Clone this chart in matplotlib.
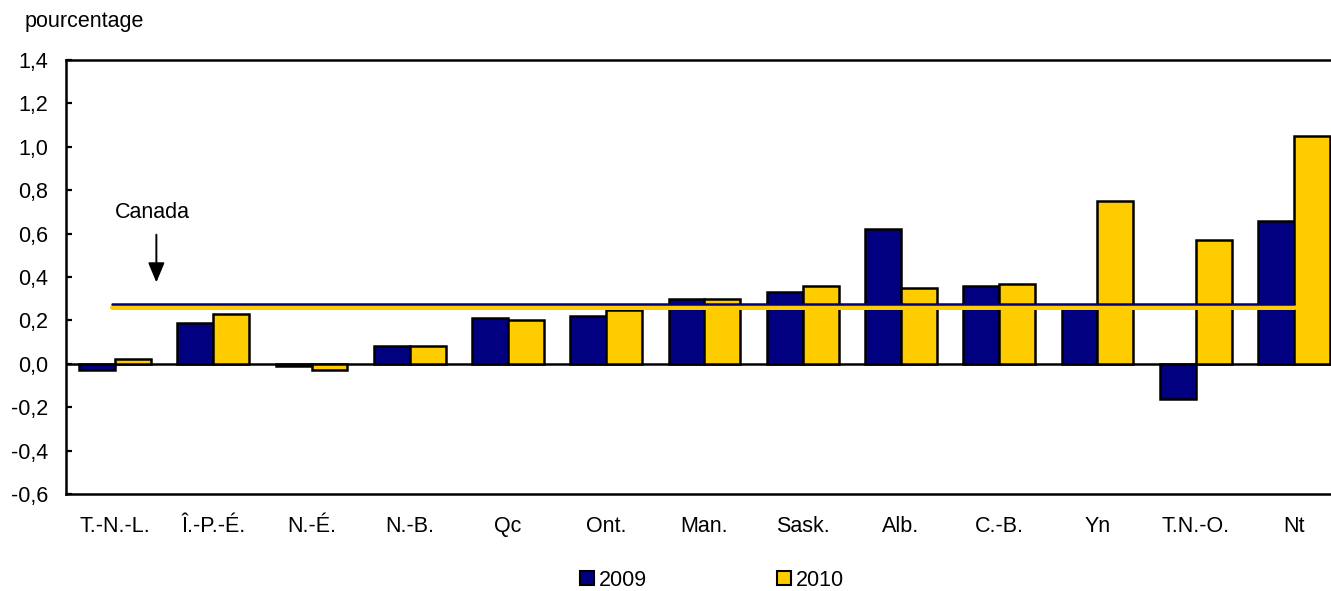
import matplotlib
matplotlib.use("Agg")
import matplotlib.pyplot as plt
import numpy as np
from matplotlib.patches import Patch

plt.rcParams['font.family'] = ['Liberation Sans', 'DejaVu Sans']

categories = ["T.-N.-L.", "Î.-P.-É.", "N.-É.", "N.-B.", "Qc", "Ont.", "Man.",
              "Sask.", "Alb.", "C.-B.", "Yn", "T.N.-O.", "Nt"]
values_2009 = [-0.03, 0.19, -0.01, 0.08, 0.21, 0.22, 0.30, 0.33, 0.62, 0.36, 0.26, -0.16, 0.66]
values_2010 = [0.02, 0.23, -0.03, 0.08, 0.20, 0.25, 0.30, 0.36, 0.35, 0.37, 0.75, 0.57, 1.05]
canada_2009 = 0.275
canada_2010 = 0.262
yticks = [-0.6, -0.4, -0.2, 0.0, 0.2, 0.4, 0.6, 0.8, 1.0, 1.2, 1.4]
ytick_labels = [f"{v:.1f}".replace(".", ",") for v in yticks]

navy = "#000080"
gold = "#FFCC00"
FS = 15.5

fig = plt.figure(figsize=(13.31, 5.91), dpi=100)
ax = fig.add_axes([66/1331, 1-494/591, 1277/1331, (494-60)/591])

x = np.arange(len(categories))
w = 0.365
ax.bar(x - w/2, values_2009, width=w, color=navy, edgecolor="black", linewidth=1.8, zorder=3)
ax.bar(x + w/2, values_2010, width=w, color=gold, edgecolor="black", linewidth=1.8, zorder=3)

ax.axhline(0, color="black", linewidth=1.8, zorder=2)

ax.plot([x[0] - 0.03, x[-1]], [canada_2010, canada_2010], color=gold, linewidth=3.6,
        solid_capstyle="round", zorder=4)
ax.plot([x[0] - 0.03, x[-1]], [canada_2009, canada_2009], color=navy, linewidth=1.8,
        solid_capstyle="round", zorder=5)

ax.annotate("", xy=(0.42, 0.375), xytext=(0.42, 0.595),
            arrowprops=dict(arrowstyle="-|>,head_length=1.2,head_width=0.5",
                            color="black", linewidth=1.4, shrinkA=0, shrinkB=0),
            zorder=6)
ax.text(0.38, 0.695, "Canada", ha="center", va="center", fontsize=FS)

ax.set_xlim(-0.5, 12.5)
ax.set_ylim(-0.6, 1.4)
ax.set_yticks(yticks)
ax.set_yticklabels(ytick_labels, fontsize=FS)
ax.set_xticks(x)
ax.set_xticklabels(categories, fontsize=FS)
ax.tick_params(axis="y", direction="in", length=4, width=1.6, pad=13)
ax.tick_params(axis="x", length=0, pad=16)
for s in ["left", "top", "bottom"]:
    ax.spines[s].set_linewidth(1.8)
ax.spines["right"].set_visible(False)

fig.text(25/1331, 1-22/591, "pourcentage", ha="left", va="center", fontsize=FS)

handles = [Patch(facecolor=navy, edgecolor="black", linewidth=1.5),
           Patch(facecolor=gold, edgecolor="black", linewidth=1.5)]
fig.legend(handles, ["2009", "2010"], loc="center", bbox_to_anchor=(712/1331, 1-580/591),
           ncol=2, frameon=False, fontsize=FS, handlelength=0.65, handleheight=0.65,
           handletextpad=0.25, columnspacing=6.0, borderpad=0.1)

fig.savefig("out.png", dpi=100)
